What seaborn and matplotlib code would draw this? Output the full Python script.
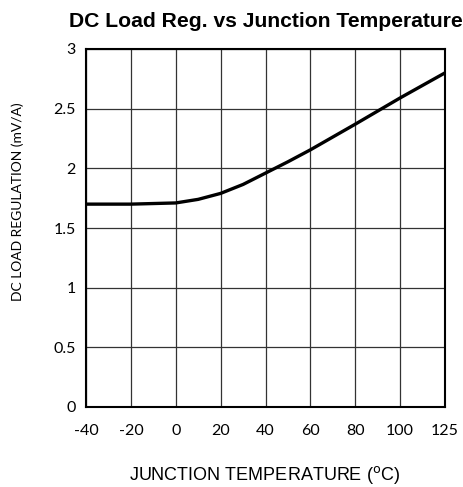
import numpy as np
import pandas as pd
import matplotlib
matplotlib.use("Agg")
import matplotlib.pyplot as plt
import seaborn as sns
from matplotlib import font_manager as fm

# Tick categories (equally spaced on the chart)
tick_temps = [-40, -20, 0, 20, 40, 60, 80, 100, 125]
tick_labels = ["-40", "-20", "0", "20", "40", "60", "80", "100", "125"]

# Curve data
temps = [-40, -20, 0, 10, 20, 30, 40, 50, 60, 80, 100, 125]
load_reg = [1.70, 1.70, 1.71, 1.74, 1.79, 1.865, 1.96, 2.055, 2.155, 2.37, 2.59, 2.80]

y_ticks = [0, 0.5, 1, 1.5, 2, 2.5, 3]
y_labels = ["0", "0.5", "1", "1.5", "2", "2.5", "3"]

sns.set_theme(style="white")
plt.rcParams["font.family"] = ["Liberation Sans", "DejaVu Sans"]

lato = "Lato"
try:
    fm.findfont(fm.FontProperties(family="Lato"), fallback_to_default=False)
except Exception:
    lato = "Open Sans"

# piecewise-linear axis scale: each tick category takes equal width
pos = np.interp(temps, tick_temps, np.arange(len(tick_temps)))
df = pd.DataFrame({"pos": pos, "val": load_reg})

fig = plt.figure(figsize=(4.63, 4.87), dpi=100)
ax = fig.add_axes([86/463, 1-407/487, (445-86)/463, (407-49)/487])

sns.lineplot(data=df, x="pos", y="val", ax=ax, color="black", linewidth=2.4,
             estimator=None, sort=False)

ax.set_xlim(0, len(tick_temps)-1)
ax.set_ylim(0, 3)
ax.set_xticks(np.arange(len(tick_temps)))
ax.set_yticks(y_ticks)
ax.set_xticklabels(tick_labels, fontfamily=lato, fontsize=11.5)
ax.set_yticklabels(y_labels, fontfamily=lato, fontsize=11.5)
ax.grid(True, color="#333333", linewidth=0.9)
ax.set_axisbelow(True)
for s in ax.spines.values():
    s.set_visible(True)
    s.set_color("black")
    s.set_linewidth(1.5)
ax.tick_params(axis="x", length=0, pad=12, colors="black")
ax.tick_params(axis="y", length=0, pad=7.5, colors="black")

ax.set_xlabel(r"JUNCTION TEMPERATURE ($^{\mathrm{o}}$C)", fontsize=13,
              color="black")
ax.xaxis.set_label_coords((265-86)/359, -(475-407)/358)
ax.xaxis.label.set_va("center")
ax.set_ylabel("DC LOAD REGULATION (mV/A)", fontsize=10, color="black",
              fontfamily=lato)
ax.yaxis.set_label_coords(-(86-18)/359, (407-202)/358)
ax.yaxis.label.set_va("center")
ax.set_title("DC Load Reg. vs Junction Temperature", fontsize=15.2,
             fontweight="bold", color="black", pad=16)

fig.savefig("out.png", dpi=100)
